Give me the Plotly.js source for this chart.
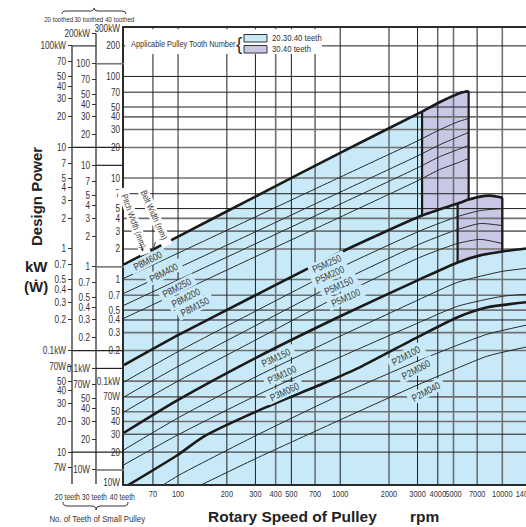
<!DOCTYPE html>
<html><head><meta charset="utf-8">
<script src="https://cdn.plot.ly/plotly-3.0.1.min.js"></script>
<style>html,body{margin:0;padding:0;background:#fff}#chart{width:526px;height:527px}</style>
</head><body><div id="chart"></div>
<script>
// ---------------- data ----------------
const xTickVals = [70,100,200,300,400,500,700,1000,2000,3000,4000,5000,7000,10000,14000];
const xTickText = ['70','100','200','300','400','500','700','1000','2000','3000','4000','5000','7000','10000','14000'];

const yTickVals40 = [300,200,100,70,50,40,30,20,10,7,5,4,3,2,1,0.7,0.5,0.4,0.3,0.2,0.1,0.07,0.05,0.04,0.03,0.02,0.01];
const yTickText40 = ['300kW','200','100','70','50','40','30','20','10','7','5','4','3','2','1','0.7','0.5','0.4','0.3','0.2','0.1kW','70W','50','40','30','20','10W'];
const yTickVals30 = [200,100,70,50,40,30,20,10,7,5,4,3,2,1,0.7,0.5,0.4,0.3,0.2,0.1,0.07,0.05,0.04,0.03,0.02,0.01];
const yTickText30 = ['200kW','100','70','50','40','30','20','10','7','5','4','3','2','1','0.7','0.5','0.4','0.3','0.2','0.1kW','70W','50','40','30','20','10W'];
const yTickVals20 = [100,70,50,40,30,20,10,7,5,4,3,2,1,0.7,0.5,0.4,0.3,0.2,0.1,0.07,0.05,0.04,0.03,0.02,0.01,0.007];
const yTickText20 = ['100kW','70','50','40','30','20','10','7','5','4','3','2','1','0.7','0.5','0.4','0.3','0.2','0.1kW','70W','50','40','30','20','10','7W'];

// 8M
const rpmP8M600 = [46.4,100,300,1000,3000,3200,4100,5300,5700,6200];
const kWP8M600  = [1.41,2.65,6.56,17.7,42.8,45.0,55.7,67.2,69.8,71.9];
const rpmP8Mthin = [46.4,100,300,1000,3000,4100,5300,6200];
const kWP8M400 = [1.03,1.82,4.14,10.2,23.2,29.8,35.7,38.6];
const kWP8M250 = [0.732,1.30,2.95,7.26,16.5,21.2,25.3,28.1];
const kWP8M200 = [0.558,0.991,2.25,5.53,12.6,16.2,19.0,21.0];
const kWP8M150 = [0.416,0.739,1.68,4.12,9.39,12.1,14.1,15.6];
// 5M
const rpmP5M250 = [46.4,100,300,1000,3200,5300,6200,7300,8400,10000];
const kWP5M250  = [0.144,0.2835,0.700,1.85,4.27,5.60,6.13,6.56,6.70,6.41];
const rpmP5Mthin = [46.4,100,300,1000,3200,5300,7300,10000];
const kWP5M200 = [0.0980,0.1952,0.4875,1.309,3.075,4.17,4.78,5.00];
const kWP5M150 = [0.0698,0.1397,0.3513,0.956,2.287,3.11,3.56,3.40];
const kWP5M100 = [0.0497,0.1002,0.2532,0.700,1.689,2.266,2.486,2.266];
// 3M
const rpmP3M150 = [46.4,100,300,1000,3000,5300,7300,10000,14000];
const kWP3M150  = [0.0310,0.0653,0.1687,0.4355,0.982,1.475,1.73,1.89,2.02];
const rpmP3Mthin = [46.4,100,300,1000,3000,5300,10000,14000];
const kWP3M100 = [0.02109,0.04344,0.1097,0.2771,0.625,0.939,1.204,1.288];
const kWP3M060 = [0.01502,0.02959,0.07142,0.1724,0.3717,0.546,0.684,0.716];
// 2M
const rpmP2M100 = [46.4,100,143,320,800,1330,3000,5300,8100,14000];
const kWP2M100  = [0.00893,0.01884,0.02828,0.0521,0.0958,0.1375,0.271,0.426,0.533,0.597];
const rpmP2M060 = [80,100,300,1000,3000,5300,8100,14000];
const kWP2M060  = [0.0094,0.01172,0.02892,0.0731,0.1575,0.2261,0.2900,0.3553];
const rpmP2M040 = [140,300,1000,3000,5300,8100,14000];
const kWP2M040  = [0.00956,0.0172,0.04152,0.0916,0.1345,0.1764,0.2162];

// region limits (rpm) of the applicable areas
const limit8M20 = 3200, limit8M30 = 6200, limit5M20 = 5300, limit5M30 = 10000;

// ---------------- styling ----------------
const FAM = "'Liberation Sans',Arial,sans-serif";
const BOLD = "'Liberation Sans',Arial,sans-serif";
const SQUEEZE = 0.82;
const F = (size, color) => ({family: FAM, size, color: color || '#333'});
const BLUE = '#c8e9f7', PURPLE = '#c8c8e6';
const gridDarkX = [70,100,200,300,500,1000,3000,4000];
const gridGrayX = [400,700,2000,5000,7000,10000];
const gridDarkY = [200,100,70,50,7,5,0.4,0.03,0.02];
const gridGrayY = [40,30,20,10,4,3,2,1,0.7,0.5,0.3,0.2,0.1,0.07,0.05,0.04];

const xr = [Math.log10(46.4), Math.log10(14000)];
const yr40 = [Math.log10(0.0097), Math.log10(300)];
const yr30 = yr40.map(v => v + Math.log10(0.75));
const yr20 = yr40.map(v => v + Math.log10(0.5));

const W = 526, TOP = 28, BOT = 484;
const pX = x => x / W;
const pY = y => (BOT - y) / (BOT - TOP);
const vY = (r, v) => (Math.log10(v) - r[0]) / (r[1] - r[0]);

function pick(r, k, lo, hi) { const X = [], Y = []; for (let i = 0; i < r.length; i++) { if (r[i] >= lo && r[i] <= hi) { X.push(r[i]); Y.push(k[i]); } } return {X, Y}; }
function at(r, k, v) { return k[r.indexOf(v)]; }
const rev = a => a.slice().reverse();

const traces = [];
{
  const c = pick(rpmP3M150, kWP3M150, limit5M20, 14000);
  const b = pick(rpmP5M250, kWP5M250, limit8M20, limit5M20);
  const a = pick(rpmP8M600, kWP8M600, 0, limit8M20);
  traces.push({x: [46.4, 14000].concat(rev(c.X), rev(b.X), rev(a.X)),
               y: [0.005, 0.005].concat(rev(c.Y), rev(b.Y), rev(a.Y)),
               mode: 'lines', fill: 'toself', fillcolor: BLUE, line: {width: 0, color: 'rgba(0,0,0,0)'}, hoverinfo: 'skip'});
}
{
  const a = pick(rpmP8M600, kWP8M600, limit8M20, limit8M30);
  const b = pick(rpmP5M250, kWP5M250, limit8M20, limit8M30);
  traces.push({x: a.X.concat(rev(b.X)), y: a.Y.concat(rev(b.Y)), mode: 'lines', fill: 'toself', fillcolor: PURPLE, line: {width: 0, color: 'rgba(0,0,0,0)'}, hoverinfo: 'skip'});
}
{
  const b = pick(rpmP5M250, kWP5M250, limit5M20, limit5M30);
  const c = pick(rpmP3M150, kWP3M150, limit5M20, limit5M30);
  traces.push({x: b.X.concat(rev(c.X)), y: b.Y.concat(rev(c.Y)), mode: 'lines', fill: 'toself', fillcolor: PURPLE, line: {width: 0, color: 'rgba(0,0,0,0)'}, hoverinfo: 'skip'});
}
function vlines(vals) { const X = [], Y = []; vals.forEach(v => { X.push(v, v, null); Y.push(0.004, 500, null); }); return {X, Y}; }
function hlines(vals) { const X = [], Y = []; vals.forEach(v => { X.push(30, 30000, null); Y.push(v, v, null); }); return {X, Y}; }
[[vlines(gridGrayX), '#707070', 1.6], [hlines(gridGrayY), '#707070', 1.6], [vlines(gridDarkX), '#1e1e1e', 1], [hlines(gridDarkY), '#1e1e1e', 1]].forEach(([g, c, w]) => {
  traces.push({x: g.X, y: g.Y, mode: 'lines', line: {color: c, width: w}, connectgaps: false, hoverinfo: 'skip'});
});
const thin = [[rpmP8Mthin, kWP8M400], [rpmP8Mthin, kWP8M250], [rpmP8Mthin, kWP8M200], [rpmP8Mthin, kWP8M150],
              [rpmP5Mthin, kWP5M200], [rpmP5Mthin, kWP5M150], [rpmP5Mthin, kWP5M100],
              [rpmP3Mthin, kWP3M100], [rpmP3Mthin, kWP3M060],
              [rpmP2M060, kWP2M060], [rpmP2M040, kWP2M040]];
thin.forEach(([r, k]) => traces.push({x: r, y: k, mode: 'lines', line: {color: '#2a2a2a', width: 1, shape: 'spline', smoothing: 0.6}, hoverinfo: 'skip'}));
const thick = [[rpmP8M600, kWP8M600], [rpmP5M250, kWP5M250], [rpmP3M150, kWP3M150], [rpmP2M100, kWP2M100]];
thick.forEach(([r, k]) => traces.push({x: r, y: k, mode: 'lines', line: {color: '#1a1a1a', width: 2.6, shape: 'spline', smoothing: 0.6}, hoverinfo: 'skip'}));
traces.push({
  x: [limit8M20, limit8M20, null, limit8M30, limit8M30, null, limit5M20, limit5M20, null, limit5M30, limit5M30],
  y: [at(rpmP8M600, kWP8M600, limit8M20), at(rpmP5M250, kWP5M250, limit8M20), null,
      at(rpmP8M600, kWP8M600, limit8M30), at(rpmP5M250, kWP5M250, limit8M30), null,
      at(rpmP5M250, kWP5M250, limit5M20), at(rpmP3M150, kWP3M150, limit5M20), null,
      at(rpmP5M250, kWP5M250, limit5M30), at(rpmP3M150, kWP3M150, limit5M30)],
  mode: 'lines', line: {color: '#1a1a1a', width: 2.2}, connectgaps: false, hoverinfo: 'skip'});
traces.push({x: [100], y: [1], yaxis: 'y2', mode: 'markers', marker: {opacity: 0}, hoverinfo: 'skip'});
traces.push({x: [100], y: [1], yaxis: 'y3', mode: 'markers', marker: {opacity: 0}, hoverinfo: 'skip'});

// ---------------- annotations ----------------
const lineLabels = [
  ['P8M600', 65.3, 1.543, -27], ['P8M400', 81.9, 1.177, -27], ['P8M250', 98.6, 0.839, -27],
  ['P8M200', 112.1, 0.669, -27], ['P8M150', 127.3, 0.546, -27],
  ['P5M250', 831, 1.442, -24], ['P5M200', 868, 1.125, -24], ['P5M150', 986, 0.877, -24], ['P5M100', 1089, 0.669, -24],
  ['P3M150', 403, 0.1724, -25], ['P3M100', 439, 0.1174, -25], ['P3M060', 458, 0.0782, -25],
  ['P2M100', 2555, 0.1804, -28], ['P2M060', 2945, 0.1315, -28], ['P2M040', 3396, 0.0799, -28]
];
const ann = [];
lineLabels.forEach(([t, r, k, a]) => ann.push({xref: 'x', yref: 'y', x: Math.log10(r), y: Math.log10(k), text: t, showarrow: false,
  textangle: a, bgcolor: BLUE, borderpad: 0, font: F(10, '#3a3a3a')}));
ann.push({xref: 'x', yref: 'y', x: Math.log10(53.1), y: Math.log10(3.75), text: 'Pitch Width (mm)', showarrow: false, textangle: 70, bgcolor: '#fff', borderpad: 0, font: F(9, '#3a3a3a')});
ann.push({xref: 'x', yref: 'y', x: Math.log10(71.1), y: Math.log10(4.35), text: 'Belt Width (mm)', showarrow: false, textangle: 66, bgcolor: '#fff', borderpad: 0, font: F(9, '#3a3a3a')});
ann.push({xref: 'x', yref: 'y', x: Math.log10(60.8), y: Math.log10(1.89), text: '', showarrow: true, arrowhead: 2, arrowsize: 0.7, arrowwidth: 0.9, arrowcolor: '#333', ax: -3, ay: -9, standoff: 0});
ann.push({xref: 'x', yref: 'y', x: Math.log10(69.1), y: Math.log10(1.89), text: '', showarrow: true, arrowhead: 2, arrowsize: 0.7, arrowwidth: 0.9, arrowcolor: '#333', ax: 4, ay: -11, standoff: 0});

function txt(text, x, y, font, extra) {
  return Object.assign({xref: 'paper', yref: 'paper', x: pX(x), y: pY(y), text, showarrow: false,
    font, xanchor: 'center', yanchor: 'middle'}, extra || {});
}
const BF = s => ({family: BOLD, size: s, color: '#222', weight: 700});
ann.push(txt('Design Power', 36, 197, BF(15), {textangle: -90}));
ann.push(txt('kW', 36, 266, BF(15)));
ann.push(txt('(Ẇ)', 36, 286, BF(15)));
ann.push(txt('Rotary Speed of Pulley', 292, 516, BF(15.5)));
ann.push(txt('rpm', 424, 516, BF(15.5)));
ann.push(txt('No. of Teeth of Small Pulley', 97, 518, F(9.5)));
ann.push(txt('20 teeth', 67, 497, F(8.5)));
ann.push(txt('30 teeth', 94, 497, F(8.5)));
ann.push(txt('40 teeth', 122, 497, F(8.5)));
ann.push(txt('20 toothed', 58, 19, F(7.5)));
ann.push(txt('30 toothed', 88, 19, F(7.5)));
ann.push(txt('40 toothed', 119, 19, F(7.5)));
ann.push(txt('Applicable Pulley Tooth Number', 129, 44, F(9), {xanchor: 'left'}));
ann.push(txt('{', 239, 43, F(19), {}));
ann.push(txt('20.30.40 teeth', 270, 38, F(9.5), {xanchor: 'left'}));
ann.push(txt('30.40 teeth', 270, 49, F(9.5), {xanchor: 'left'}));
const noSqueeze = new Set(['Design Power', 'kW', '(Ẇ)', 'Rotary Speed of Pulley', 'rpm', '{']);
const leftAligned = new Set(['Applicable Pulley Tooth Number', '20.30.40 teeth', '30.40 teeth']);

// ---------------- shapes ----------------
const P = (x, y) => pX(x).toFixed(5) + ',' + pY(y).toFixed(5);
const shapes = [];
const L = (x0, y0, x1, y1, color, width) => ({type: 'line', xref: 'paper', yref: 'paper', x0, y0, x1, y1, line: {color, width}});
shapes.push(L(pX(72), 0, pX(72), vY(yr20, 100), '#333', 1.3));
shapes.push(L(pX(96), 0, pX(96), vY(yr30, 200), '#333', 1.3));
shapes.push(L(pX(72), vY(yr20, 100), pX(96), vY(yr20, 100), '#333', 1.2));
[10, 0.1, 0.01].forEach(v => shapes.push(L(pX(72), vY(yr20, v), pX(124), vY(yr20, v), '#222', 1.2)));
[[100, '#777', 1.6], [10, '#222', 1.2], [1, '#777', 1.6], [0.1, '#222', 1.2], [0.01, '#777', 1.6]].forEach(([v, c, w]) =>
  shapes.push(L(pX(96), vY(yr30, v), pX(124), vY(yr30, v), c, w)));
shapes.push({type: 'rect', xref: 'paper', yref: 'paper', x0: pX(125.2), x1: pX(322), y0: pY(54), y1: pY(29.3), fillcolor: '#fff', line: {width: 0}, layer: 'above'});
shapes.push({type: 'rect', xref: 'paper', yref: 'paper', x0: pX(244), x1: pX(267), y0: pY(42), y1: pY(34.5), fillcolor: BLUE, line: {color: '#333', width: 1}, layer: 'above'});
shapes.push({type: 'rect', xref: 'paper', yref: 'paper', x0: pX(244), x1: pX(267), y0: pY(53), y1: pY(45.5), fillcolor: PURPLE, line: {color: '#333', width: 1}, layer: 'above'});
shapes.push({type: 'path', xref: 'paper', yref: 'paper', line: {color: '#333', width: 1},
  path: `M${P(62,14)} Q${P(62,11)} ${P(66,11)} L${P(90,11)} Q${P(94,11)} ${P(94,8)} Q${P(94,11)} ${P(98,11)} L${P(122,11)} Q${P(126,11)} ${P(126,14)}`});
shapes.push({type: 'path', xref: 'paper', yref: 'paper', line: {color: '#333', width: 1},
  path: `M${P(63,502)} Q${P(63,506)} ${P(67,506)} L${P(92,506)} Q${P(96,506)} ${P(96,510)} Q${P(96,506)} ${P(100,506)} L${P(124,506)} Q${P(128,506)} ${P(128,502)}`});

const tickFont = F(10);
const layout = {
  width: 526, height: 527,
  margin: {l: 0, r: 0, t: TOP, b: 527 - BOT, pad: 0},
  paper_bgcolor: '#fff', plot_bgcolor: '#fff', showlegend: false,
  font: F(10),
  xaxis: {type: 'log', range: xr, domain: [124 / W, 1], tickvals: xTickVals, ticktext: xTickText, ticks: '', tickangle: 0,
          showgrid: false, zeroline: false, showline: true, linecolor: '#2b2b2b', linewidth: 2, mirror: true,
          tickfont: F(9), ticklabeloverflow: 'allow', fixedrange: true},
  yaxis: {type: 'log', range: yr40, tickvals: yTickVals40, ticktext: yTickText40, ticks: '',
          showgrid: false, zeroline: false, showline: true, linecolor: '#2b2b2b', linewidth: 2, mirror: true,
          tickfont: tickFont, ticklabeloverflow: 'allow', fixedrange: true},
  yaxis2: {type: 'log', range: yr30, overlaying: 'y', anchor: 'free', position: 96 / W, side: 'left',
           tickvals: yTickVals30, ticktext: yTickText30, ticks: 'outside', ticklen: 4, tickcolor: '#333', tickwidth: 1,
           showgrid: false, zeroline: false, showline: false, tickfont: tickFont, ticklabeloverflow: 'allow', fixedrange: true},
  yaxis3: {type: 'log', range: yr20, overlaying: 'y', anchor: 'free', position: 72 / W, side: 'left',
           tickvals: yTickVals20, ticktext: yTickText20, ticks: 'outside', ticklen: 4, tickcolor: '#333', tickwidth: 1,
           showgrid: false, zeroline: false, showline: false, tickfont: tickFont, ticklabeloverflow: 'allow', fixedrange: true},
  shapes, annotations: ann
};
Plotly.newPlot('chart', traces, layout, {staticPlot: true, displayModeBar: false}).then(gd => {
  // the reference uses a condensed typeface: narrow the regular texts horizontally
  gd.querySelectorAll('svg text').forEach(t => {
    const s = (t.textContent || '').trim();
    if (!s || noSqueeze.has(s)) return;
    const len = t.getComputedTextLength();
    if (len > 0) {
      t.setAttribute('textLength', (len * SQUEEZE).toFixed(2));
      t.setAttribute('lengthAdjust', 'spacingAndGlyphs');
      if (leftAligned.has(s)) {
        const x = parseFloat(t.getAttribute('x') || '0');
        t.setAttribute('x', (x - len * (1 - SQUEEZE) / 2).toFixed(2));
      }
    }
  });
});
</script></body></html>
